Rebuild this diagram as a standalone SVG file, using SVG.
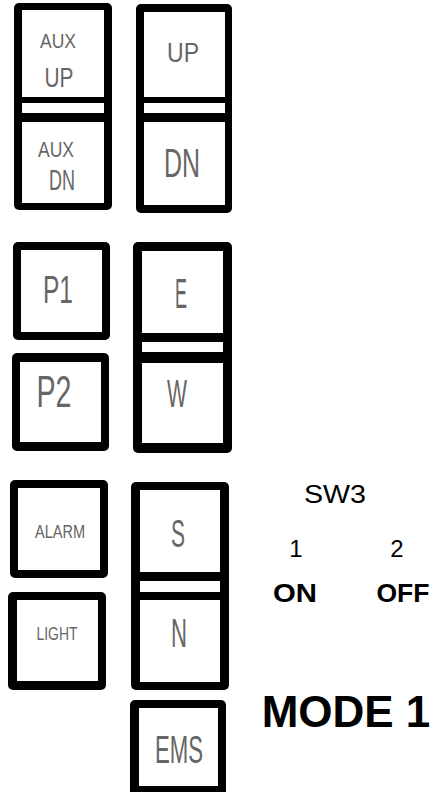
<svg xmlns="http://www.w3.org/2000/svg" width="437" height="792" viewBox="0 0 437 792">
<style>
.frame{fill:#000}
.face{fill:#fff}
.lbl{font-family:"Liberation Sans",Arial,sans-serif;fill:#666;text-anchor:middle}
.txt{font-family:"Liberation Sans",Arial,sans-serif;fill:#000;text-anchor:middle}
.b{font-weight:bold}
</style>
<rect width="437" height="792" fill="#fff"/>
<g id="aux-updn">
<rect class="frame" x="14" y="3" width="98" height="207" rx="5"/>
<rect class="face" x="22" y="10" width="82" height="87"/>
<rect class="face" x="22" y="103" width="82" height="10"/>
<rect class="face" x="22" y="122" width="82" height="81"/>
<text class="lbl" x="58" y="48" font-size="21" textLength="36" lengthAdjust="spacingAndGlyphs">AUX</text>
<text class="lbl" x="59" y="87" font-size="28" textLength="29" lengthAdjust="spacingAndGlyphs">UP</text>
<text class="lbl" x="56" y="157" font-size="22" textLength="36" lengthAdjust="spacingAndGlyphs">AUX</text>
<text class="lbl" x="62" y="190" font-size="30" textLength="26" lengthAdjust="spacingAndGlyphs">DN</text>
</g>
<g id="updn">
<rect class="frame" x="136" y="4" width="96" height="209" rx="5"/>
<rect class="face" x="144" y="12" width="81" height="85"/>
<rect class="face" x="144" y="103" width="81" height="10"/>
<rect class="face" x="144" y="122" width="81" height="83"/>
<text class="lbl" x="183" y="62" font-size="28" textLength="32" lengthAdjust="spacingAndGlyphs">UP</text>
<text class="lbl" x="182" y="177" font-size="41" textLength="36" lengthAdjust="spacingAndGlyphs">DN</text>
</g>
<g id="p1">
<rect class="frame" x="13" y="242" width="97" height="98" rx="5"/>
<rect class="face" x="21" y="250" width="81" height="82"/>
<text class="lbl" x="58" y="303" font-size="39" textLength="30" lengthAdjust="spacingAndGlyphs">P1</text>
</g>
<g id="p2">
<rect class="frame" x="12" y="353" width="97" height="98" rx="5"/>
<rect class="face" x="20" y="362" width="81" height="80"/>
<text class="lbl" x="54" y="407" font-size="44" textLength="35" lengthAdjust="spacingAndGlyphs">P2</text>
</g>
<g id="ew">
<rect class="frame" x="133" y="242" width="99" height="211" rx="5"/>
<rect class="face" x="142" y="251" width="81" height="82"/>
<rect class="face" x="142" y="342" width="81" height="10"/>
<rect class="face" x="142" y="363" width="81" height="80"/>
<text class="lbl" x="181" y="308" font-size="43" textLength="12" lengthAdjust="spacingAndGlyphs">E</text>
<text class="lbl" x="177" y="407" font-size="38" textLength="20" lengthAdjust="spacingAndGlyphs">W</text>
</g>
<g id="alarm">
<rect class="frame" x="10" y="480" width="98" height="98" rx="5"/>
<rect class="face" x="18" y="488" width="82" height="82"/>
<text class="lbl" x="60" y="538" font-size="18" textLength="50" lengthAdjust="spacingAndGlyphs">ALARM</text>
</g>
<g id="light">
<rect class="frame" x="8" y="592" width="98" height="98" rx="5"/>
<rect class="face" x="17" y="600" width="81" height="81"/>
<text class="lbl" x="57" y="640" font-size="18" textLength="41" lengthAdjust="spacingAndGlyphs">LIGHT</text>
</g>
<g id="sn">
<rect class="frame" x="131" y="482" width="98" height="208" rx="5"/>
<rect class="face" x="140" y="490" width="80" height="82"/>
<rect class="face" x="140" y="581" width="80" height="11"/>
<rect class="face" x="140" y="600" width="80" height="82"/>
<text class="lbl" x="178" y="547" font-size="38" textLength="14" lengthAdjust="spacingAndGlyphs">S</text>
<text class="lbl" x="179" y="647" font-size="40" textLength="16" lengthAdjust="spacingAndGlyphs">N</text>
</g>
<g id="ems">
<rect class="frame" x="130" y="700" width="96" height="100" rx="5"/>
<rect class="face" x="139" y="708" width="79" height="78"/>
<text class="lbl" x="179" y="763" font-size="39" textLength="48" lengthAdjust="spacingAndGlyphs">EMS</text>
</g>
<g id="connectors"></g>
<g id="legend">
<text class="txt" x="335" y="503" font-size="25" textLength="62" lengthAdjust="spacingAndGlyphs">SW3</text>
<text class="txt" x="296" y="557" font-size="24">1</text>
<text class="txt" x="397" y="557" font-size="24">2</text>
<text class="txt b" x="295" y="602" font-size="26" textLength="44" lengthAdjust="spacingAndGlyphs">ON</text>
<text class="txt b" x="403" y="602" font-size="26" textLength="53" lengthAdjust="spacingAndGlyphs">OFF</text>
<text class="txt b" x="346" y="727" font-size="44">MODE 1</text>
</g>
</svg>
